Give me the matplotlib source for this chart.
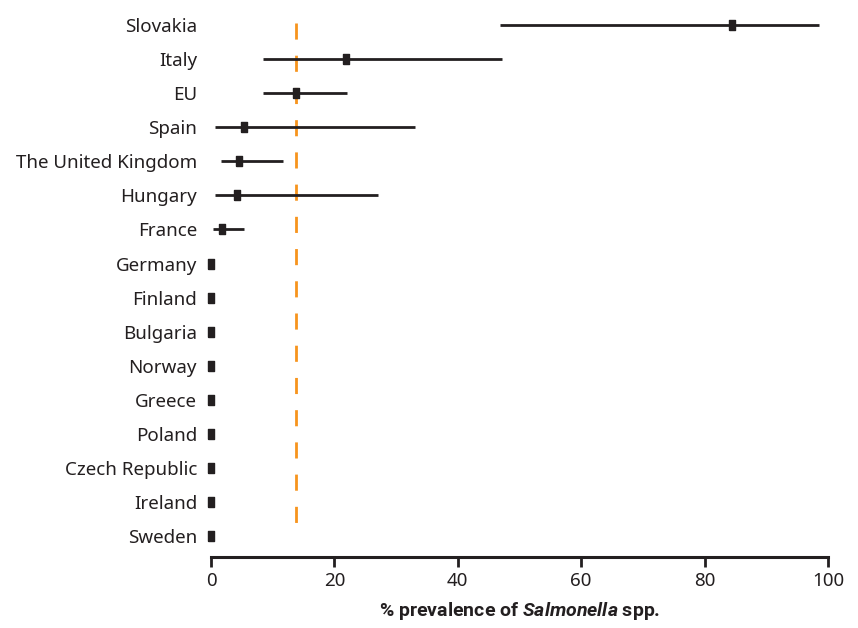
import matplotlib.pyplot as plt

# data (percent prevalence with 95% CI)
countries = ['Slovakia', 'Italy', 'EU', 'Spain', 'The United Kingdom', 'Hungary',
             'France', 'Germany', 'Finland', 'Bulgaria', 'Norway', 'Greece',
             'Poland', 'Czech Republic', 'Ireland', 'Sweden']
prevalence = [84.5, 21.9, 13.8, 5.4, 4.5, 4.2, 1.8, 0, 0, 0, 0, 0, 0, 0, 0, 0]
ci_low = [46.9, 8.4, 8.4, 0.7, 1.7, 0.7, 0.4, 0, 0, 0, 0, 0, 0, 0, 0, 0]
ci_high = [98.5, 47.2, 22.1, 33.1, 11.6, 27.0, 5.4, 0, 0, 0, 0, 0, 0, 0, 0, 0]
eu_mean = 13.8
xticks = [0, 20, 40, 60, 80, 100]

plt.rcParams['font.family'] = ['Noto Sans', 'DejaVu Sans']
plt.rcParams['mathtext.fontset'] = 'custom'
plt.rcParams['mathtext.it'] = 'Roboto:italic:bold'
plt.rcParams['mathtext.rm'] = 'Roboto:bold'

dark = '#231f20'
orange = '#f7941d'

fig = plt.figure(figsize=(8.58, 6.28), dpi=100)
ax = fig.add_axes([0.2459, 0.113, 0.7191, 0.874])

ypos = list(range(len(countries)))

#confidence interval lines
for y, lo, hi in zip(ypos, ci_low, ci_high):
    if hi > lo:
        ax.plot([lo, hi], [y, y], color=dark, lw=2, solid_capstyle='butt', zorder=3)

#point estimates as small upright rectangles
rect = [(-0.7, -1), (0.7, -1), (0.7, 1), (-0.7, 1), (-0.7, -1)]
ax.plot(prevalence, ypos, linestyle='none', marker=rect, markersize=7,
        color=dark, clip_on=False, zorder=4)

#EU reference line
ax.vlines(eu_mean, -0.05, len(countries) - 1.35, color=orange, lw=2,
          linestyles=(0, (5.8, 5.8)), zorder=2)

ax.set_xlim(0, 100)
ax.set_ylim(len(countries) - 1 + 0.62, -0.5)
ax.set_yticks(ypos)
ax.set_yticklabels(countries, fontsize=13.5, color=dark)
ax.tick_params(axis='y', length=0, pad=10)
ax.set_xticks(xticks)
ax.set_xticklabels([str(t) for t in xticks], fontsize=13.5, color=dark)
ax.tick_params(axis='x', length=7, width=2, color=dark, pad=4)

for side in ['top', 'right', 'left']:
    ax.spines[side].set_visible(False)
ax.spines['bottom'].set_linewidth(2.2)
ax.spines['bottom'].set_color(dark)

ax.set_xlabel(r'% prevalence of $\mathit{Salmonella}$ spp.', fontsize=14,
              family='Roboto', fontweight='bold', color=dark, labelpad=7)

fig.savefig('out.png', dpi=100)
